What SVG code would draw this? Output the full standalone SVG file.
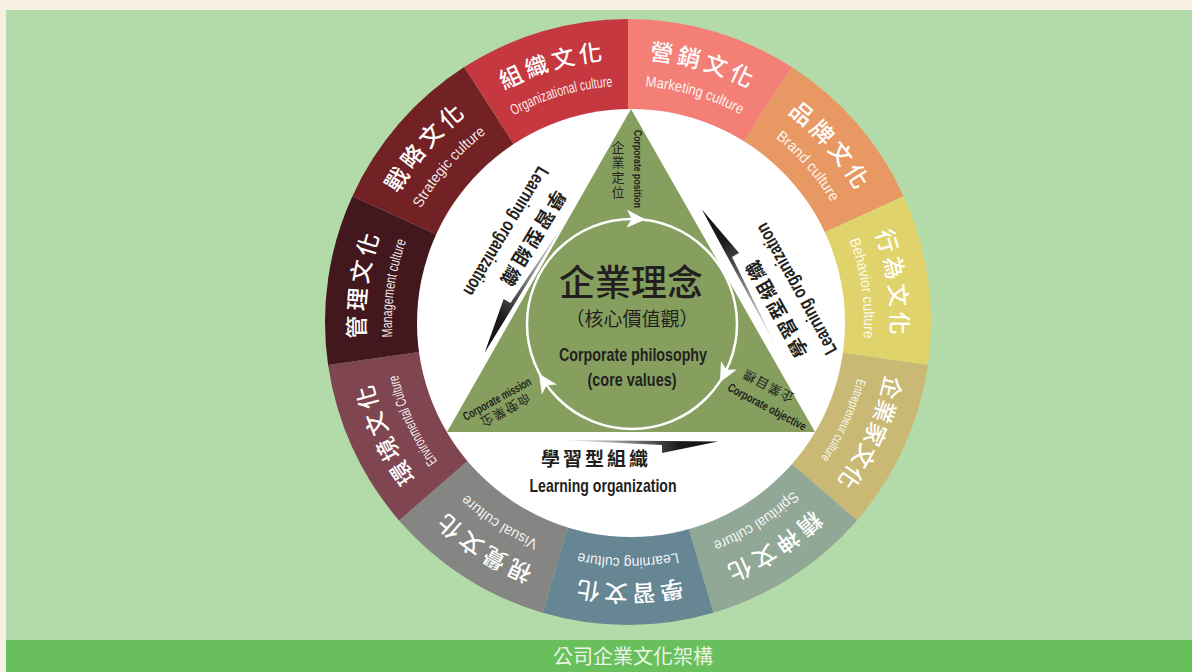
<svg xmlns="http://www.w3.org/2000/svg" xmlns:xlink="http://www.w3.org/1999/xlink" width="1192" height="672" viewBox="0 0 1192 672">
<style>
.cn{font-family:"Noto Sans CJK TC","Noto Sans CJK SC",sans-serif}
.rcn{font-family:"Noto Sans CJK TC","Noto Sans CJK SC",sans-serif;font-size:23px;font-weight:500;fill:#fff;letter-spacing:4px}
.ren{font-family:"Liberation Sans",Arial,sans-serif;font-size:15px;fill:#fff;fill-opacity:0.92}
.enb{font-family:"Liberation Sans",Arial,sans-serif;font-weight:bold;fill:#231f20}
.dk{fill:#231f20}
</style>
<defs>
<path id="arcC" d="M400.23,190.5 A263,263 0 0 1 855.77,190.5"/>
<path id="arcE" d="M423.62,204 A236,236 0 0 1 832.38,204"/>
<linearGradient id="gArrow" x1="0" y1="0" x2="1" y2="0">
<stop offset="0" stop-color="#ffffff"/>
<stop offset="0.35" stop-color="#a0a0a0"/>
<stop offset="0.75" stop-color="#1c1c1c"/>
<stop offset="1" stop-color="#111111"/>
</linearGradient>
<path id="ah" d="M10,0 L-9,-9 L-4,0 L-9,9 Z" fill="#fff"/>
<g id="lo">
<path d="M-40,-30 L118,-28.5 L62,-17 L62,-25 Z" fill="url(#gArrow)"/>
<text x="-4" y="-4" text-anchor="middle" class="cn dk" font-size="19" font-weight="bold" letter-spacing="3">學習型組織</text>
<text x="3" y="22" text-anchor="middle" class="enb" font-size="19" textLength="147" lengthAdjust="spacingAndGlyphs">Learning organization</text>
</g>
</defs>

<rect x="0" y="0" width="1192" height="672" fill="#f7f0e3"/>
<rect x="6" y="10" width="1186" height="630" fill="#b3dba9"/>
<rect x="6" y="640" width="1186" height="32" fill="#6abf5d"/>
<text x="633" y="664" text-anchor="middle" class="cn" font-size="20" fill="#eaf6e5">公司企業文化架構</text>

<g id="ring">
<g id="seg-marketing">
<path d="M628,322 L628,19 A303,303 0 0 1 791.80,67.09 Z" fill="#f37f77"/>
<text class="rcn" transform="rotate(16.36 628 322)"><textPath href="#arcC" startOffset="50%" text-anchor="middle">營銷文化</textPath></text>
<text class="ren" transform="rotate(16.36 628 322)"><textPath href="#arcE" startOffset="50%" text-anchor="middle" textLength="100" lengthAdjust="spacingAndGlyphs">Marketing culture</textPath></text>
</g>
<g id="seg-brand">
<path d="M628,322 L791.80,67.09 A303,303 0 0 1 903.61,196.13 Z" fill="#e89963"/>
<text class="rcn" transform="rotate(49.09 628 322)"><textPath href="#arcC" startOffset="50%" text-anchor="middle">品牌文化</textPath></text>
<text class="ren" transform="rotate(49.09 628 322)"><textPath href="#arcE" startOffset="50%" text-anchor="middle" textLength="86" lengthAdjust="spacingAndGlyphs">Brand culture</textPath></text>
</g>
<g id="seg-behavior">
<path d="M628,322 L903.61,196.13 A303,303 0 0 1 927.91,365.12 Z" fill="#e1d36b"/>
<text class="rcn" transform="rotate(81.82 628 322)"><textPath href="#arcC" startOffset="50%" text-anchor="middle">行為文化</textPath></text>
<text class="ren" transform="rotate(81.82 628 322)"><textPath href="#arcE" startOffset="50%" text-anchor="middle" textLength="100" lengthAdjust="spacingAndGlyphs">Behavior culture</textPath></text>
</g>
<g id="seg-entrepreneur">
<path d="M628,322 L927.91,365.12 A303,303 0 0 1 856.98,520.43 Z" fill="#c9b974"/>
<text class="rcn" style="letter-spacing:1px" transform="rotate(114.55 628 322)"><textPath href="#arcC" startOffset="50%" text-anchor="middle">企業家文化</textPath></text>
<text class="ren" style="font-size:13px" transform="rotate(114.55 628 322)"><textPath href="#arcE" startOffset="50%" text-anchor="middle" textLength="88" lengthAdjust="spacingAndGlyphs">Entrepreneur culture</textPath></text>
</g>
<g id="seg-spiritual">
<path d="M628,322 L856.98,520.43 A303,303 0 0 1 713.36,612.73 Z" fill="#91a897"/>
<text class="rcn" transform="rotate(147.27 628 322)"><textPath href="#arcC" startOffset="50%" text-anchor="middle">精神文化</textPath></text>
<text class="ren" transform="rotate(147.27 628 322)"><textPath href="#arcE" startOffset="50%" text-anchor="middle" textLength="96" lengthAdjust="spacingAndGlyphs">Spiritual culture</textPath></text>
</g>
<g id="seg-learning">
<path d="M628,322 L713.36,612.73 A303,303 0 0 1 542.64,612.73 Z" fill="#668694"/>
<text class="rcn" transform="rotate(180 628 322)"><textPath href="#arcC" startOffset="50%" text-anchor="middle">學習文化</textPath></text>
<text class="ren" transform="rotate(180 628 322)"><textPath href="#arcE" startOffset="50%" text-anchor="middle" textLength="100" lengthAdjust="spacingAndGlyphs">Learning culture</textPath></text>
</g>
<g id="seg-visual">
<path d="M628,322 L542.64,612.73 A303,303 0 0 1 399.02,520.43 Z" fill="#858583"/>
<text class="rcn" transform="rotate(212.73 628 322)"><textPath href="#arcC" startOffset="50%" text-anchor="middle">視覺文化</textPath></text>
<text class="ren" transform="rotate(212.73 628 322)"><textPath href="#arcE" startOffset="50%" text-anchor="middle" textLength="86" lengthAdjust="spacingAndGlyphs">Visual culture</textPath></text>
</g>
<g id="seg-environmental">
<path d="M628,322 L399.02,520.43 A303,303 0 0 1 328.09,365.12 Z" fill="#7f4551"/>
<text class="rcn" transform="rotate(245.45 628 322)"><textPath href="#arcC" startOffset="50%" text-anchor="middle">環境文化</textPath></text>
<text class="ren" transform="rotate(245.45 628 322)"><textPath href="#arcE" startOffset="50%" text-anchor="middle" textLength="96" lengthAdjust="spacingAndGlyphs">Environmental Culture</textPath></text>
</g>
<g id="seg-management">
<path d="M628,322 L328.09,365.12 A303,303 0 0 1 352.39,196.13 Z" fill="#42171d"/>
<text class="rcn" transform="rotate(278.18 628 322)"><textPath href="#arcC" startOffset="50%" text-anchor="middle">管理文化</textPath></text>
<text class="ren" transform="rotate(278.18 628 322)"><textPath href="#arcE" startOffset="50%" text-anchor="middle" textLength="98" lengthAdjust="spacingAndGlyphs">Management culture</textPath></text>
</g>
<g id="seg-strategic">
<path d="M628,322 L352.39,196.13 A303,303 0 0 1 464.20,67.09 Z" fill="#722224"/>
<text class="rcn" transform="rotate(310.91 628 322)"><textPath href="#arcC" startOffset="50%" text-anchor="middle">戰略文化</textPath></text>
<text class="ren" transform="rotate(310.91 628 322)"><textPath href="#arcE" startOffset="50%" text-anchor="middle" textLength="100" lengthAdjust="spacingAndGlyphs">Strategic culture</textPath></text>
</g>
<g id="seg-organizational">
<path d="M628,322 L464.20,67.09 A303,303 0 0 1 628,19 Z" fill="#c5383f"/>
<text class="rcn" transform="rotate(343.64 628 322)"><textPath href="#arcC" startOffset="50%" text-anchor="middle">組織文化</textPath></text>
<text class="ren" transform="rotate(343.64 628 322)"><textPath href="#arcE" startOffset="50%" text-anchor="middle" textLength="104" lengthAdjust="spacingAndGlyphs">Organizational culture</textPath></text>
</g>
</g>

<circle id="inner-disc" cx="631" cy="323" r="214" fill="#fff"/>

<g id="triangle">
<polygon points="631,109 447,432 815,432" fill="#869f5f"/>
</g>

<g id="connectors">
<circle cx="632" cy="324" r="105" fill="none" stroke="#fff" stroke-width="2.5"/>
<use href="#ah" transform="translate(635.7 219.1) rotate(2)"/>
<use href="#ah" transform="translate(724.7 373.3) rotate(118)"/>
<use href="#ah" transform="translate(544.4 382) rotate(236.5)"/>
</g>

<g id="node-philosophy">
<text x="631" y="296" text-anchor="middle" class="cn dk" font-size="36" font-weight="500">企業理念</text>
<text x="632" y="326" text-anchor="middle" class="cn dk" font-size="19">（核心價值觀）</text>
<text x="633" y="361" text-anchor="middle" class="enb" font-size="19" textLength="148" lengthAdjust="spacingAndGlyphs">Corporate philosophy</text>
<text x="632" y="386" text-anchor="middle" class="enb" font-size="19" textLength="89" lengthAdjust="spacingAndGlyphs">(core values)</text>
</g>

<g id="node-position">
<text x="618" y="141" writing-mode="vertical-rl" class="cn dk" font-size="13" letter-spacing="2">企業定位</text>
<text transform="translate(634 169) rotate(90)" text-anchor="middle" class="enb" font-size="11" textLength="78" lengthAdjust="spacingAndGlyphs">Corporate position</text>
</g>

<g id="node-mission">
<text transform="translate(497 399) rotate(-29)" y="4" text-anchor="middle" class="enb" font-size="12" textLength="76" lengthAdjust="spacingAndGlyphs">Corporate mission</text>
<text transform="translate(506 410) rotate(-29) scale(1 -1)" y="5" text-anchor="middle" class="cn dk" font-size="13" letter-spacing="1">企業使命</text>
</g>

<g id="node-objective">
<text transform="translate(767 407) rotate(28)" y="4" text-anchor="middle" class="enb" font-size="12" textLength="87" lengthAdjust="spacingAndGlyphs">Corporate objective</text>
<text transform="translate(768 386) rotate(208)" y="5" text-anchor="middle" class="cn dk" font-size="13" letter-spacing="1">企業目標</text>
</g>

<g id="node-learning-bottom">
<use href="#lo" transform="translate(600 470)"/>
</g>
<g id="node-learning-left">
<use href="#lo" transform="translate(521 237) rotate(121)"/>
</g>
<g id="node-learning-right">
<use href="#lo" transform="translate(784 299) rotate(241)"/>
</g>
</svg>
